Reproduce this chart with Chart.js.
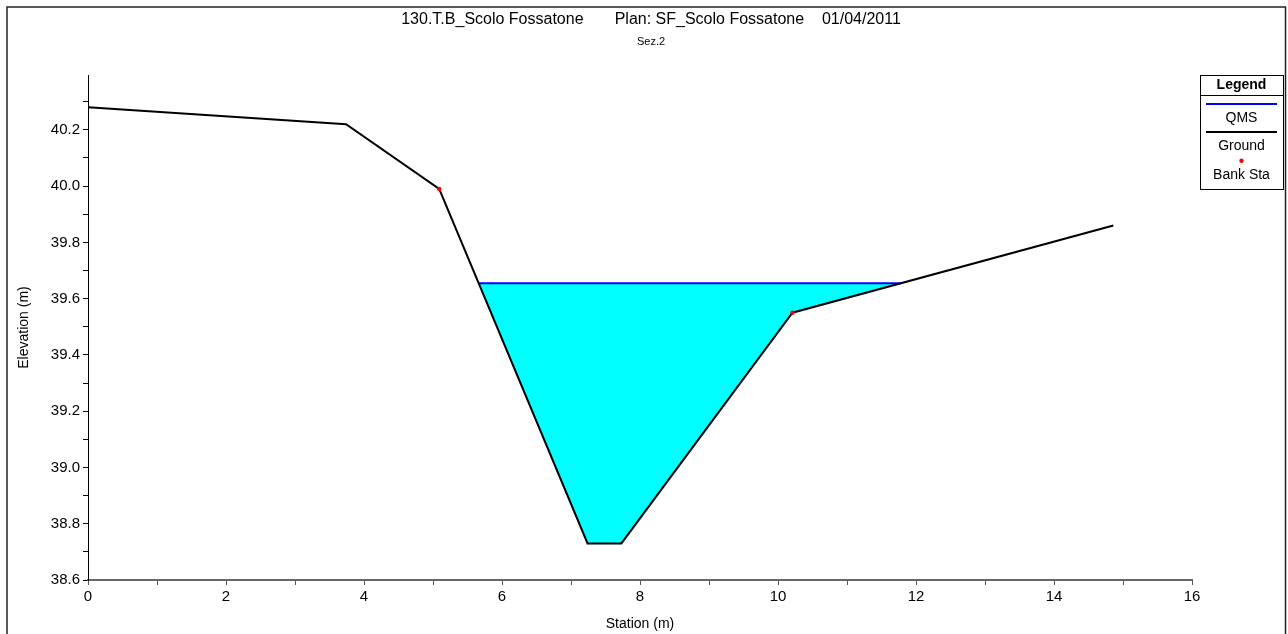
<!DOCTYPE html>
<html lang="it">
<head>
    <meta charset="UTF-8">
    <title>Sez.2 - Scolo Fossatone</title>
    <script src="https://cdn.jsdelivr.net/npm/chart.js"></script>
    <style>
        body {
            margin: 0;
            background-color: #ffffff;
        }
        #sezione {
            display: block;
        }
    </style>
</head>
<body>
    <canvas id="sezione" width="1288" height="634"></canvas>

    <script>
        // Rilievo della sezione: stazioni (m) e quote del terreno (m)
        const stazioni = [0, 3.74, 5.09, 7.24, 7.73, 10.21, 14.86];
        const quoteTerreno = [40.28, 40.22, 39.99, 38.73, 38.73, 39.55, 39.86];
        // Stazioni delle sponde
        const stazioniSponde = [5.09, 10.21];
        // Quota del pelo libero (QMS)
        const quotaQMS = 39.655;

        const rangeX = [0, 16];
        const rangeY = [38.6, 40.395];

        const FONT = '"Liberation Sans", Arial, sans-serif';

        const terreno = stazioni.map((x, i) => ({ x: x, y: quoteTerreno[i] }));
        const sponde = stazioniSponde.map(x => ({ x: x, y: quoteTerreno[stazioni.indexOf(x)] }));

        // parte bagnata del terreno, con i punti di intersezione col pelo libero
        function parteBagnata(punti, quota) {
            const out = [];
            for (let i = 0; i < punti.length; i++) {
                const a = punti[i];
                if (a.y <= quota) out.push(a);
                const b = punti[i + 1];
                if (b && (a.y - quota) * (b.y - quota) < 0) {
                    const t = (quota - a.y) / (b.y - a.y);
                    out.push({ x: a.x + t * (b.x - a.x), y: quota });
                }
            }
            return out;
        }

        const bagnato = parteBagnata(terreno, quotaQMS);
        const qms = [
            { x: bagnato[0].x, y: quotaQMS },
            { x: bagnato[bagnato.length - 1].x, y: quotaQMS }
        ];

        // cornice esterna
        const cornice = {
            id: 'cornice',
            beforeDraw(chart) {
                const ctx = chart.ctx;
                ctx.save();
                ctx.fillStyle = '#ffffff';
                ctx.fillRect(0, 0, chart.width, chart.height);
                ctx.strokeStyle = '#222222';
                ctx.lineWidth = 1.5;
                ctx.strokeRect(7, 7, 1278.5, 700);
                ctx.restore();
            }
        };

        // legenda a riquadro: simbolo sopra, nome sotto
        const legenda = {
            id: 'legenda',
            afterDraw(chart) {
                const ctx = chart.ctx;
                const l = 1200, t = 75, r = 1283, b = 189;
                const cx = (l + r) / 2;
                ctx.save();
                ctx.fillStyle = '#ffffff';
                ctx.fillRect(l, t, r - l, b - t);
                ctx.strokeStyle = '#000000';
                ctx.lineWidth = 1;
                ctx.strokeRect(l + 0.5, t + 0.5, r - l, b - t);

                ctx.textAlign = 'center';
                ctx.textBaseline = 'middle';
                ctx.fillStyle = '#000000';
                ctx.font = 'bold 14px ' + FONT;
                ctx.fillText('Legend', cx, 85.5);
                ctx.beginPath();
                ctx.moveTo(l, 95.5);
                ctx.lineTo(r, 95.5);
                ctx.stroke();

                const voci = [
                    { nome: 'QMS', ySimbolo: 104, yTesto: 118.5 },
                    { nome: 'Ground', ySimbolo: 132, yTesto: 146 },
                    { nome: 'Bank Sta', ySimbolo: 160.7, yTesto: 175 }
                ];
                voci.forEach(v => {
                    const ds = chart.data.datasets.find(d => d.label === v.nome);
                    if (ds.showLine === false) {
                        ctx.fillStyle = ds.pointBackgroundColor;
                        ctx.beginPath();
                        ctx.arc(cx, v.ySimbolo, 2.2, 0, Math.PI * 2);
                        ctx.fill();
                    } else {
                        ctx.strokeStyle = ds.borderColor;
                        ctx.lineWidth = 2;
                        ctx.beginPath();
                        ctx.moveTo(l + 6, v.ySimbolo);
                        ctx.lineTo(r - 6, v.ySimbolo);
                        ctx.stroke();
                    }
                    ctx.fillStyle = '#000000';
                    ctx.font = '14px ' + FONT;
                    ctx.fillText(v.nome, cx, v.yTesto);
                });
                ctx.restore();
            }
        };

        const decimiY = v => Math.round(v * 10);

        new Chart(document.getElementById('sezione'), {
            type: 'line',
            data: {
                datasets: [{
                    label: 'Bank Sta',
                    data: sponde,
                    showLine: false,
                    pointRadius: 2.2,
                    pointBackgroundColor: '#ff0000',
                    pointBorderColor: '#ff0000',
                    pointBorderWidth: 0
                }, {
                    label: 'Ground',
                    data: terreno,
                    borderColor: '#000000',
                    borderWidth: 2,
                    pointRadius: 0,
                    fill: false
                }, {
                    label: 'QMS',
                    data: qms,
                    borderColor: '#0000ff',
                    borderWidth: 2,
                    pointRadius: 0,
                    fill: false
                }, {
                    label: 'acqua',
                    data: bagnato,
                    borderWidth: 0,
                    borderColor: 'rgba(0,0,0,0)',
                    backgroundColor: '#00ffff',
                    pointRadius: 0,
                    fill: { value: quotaQMS }
                }]
            },
            options: {
                responsive: false,
                animation: false,
                layout: {
                    padding: { left: 14, right: 0, top: 0, bottom: 0 }
                },
                plugins: {
                    legend: { display: false },
                    tooltip: { enabled: false },
                    title: {
                        display: true,
                        text: '130.T.B_Scolo Fossatone       Plan: SF_Scolo Fossatone    01/04/2011',
                        color: '#000000',
                        font: { family: FONT, size: 16, weight: 'normal' },
                        padding: { top: 10, bottom: 0 }
                    },
                    subtitle: {
                        display: true,
                        text: 'Sez.2',
                        color: '#000000',
                        font: { family: FONT, size: 11 },
                        padding: { top: 6, bottom: 26.6 }
                    }
                },
                scales: {
                    x: {
                        type: 'linear',
                        min: rangeX[0],
                        max: rangeX[1],
                        afterFit(scale) {
                            scale.height = 54;
                            scale.paddingRight = 96;
                        },
                        ticks: {
                            stepSize: 1,
                            autoSkip: false,
                            maxRotation: 0,
                            padding: 3,
                            color: '#000000',
                            font: { family: FONT, size: 15 },
                            callback: v => (Math.round(v) % 2 === 0 ? String(Math.round(v)) : '')
                        },
                        grid: {
                            drawOnChartArea: false,
                            drawTicks: true,
                            tickLength: 5,
                            color: '#555555',
                            tickColor: '#555555'
                        },
                        border: { color: '#666666', width: 2 },
                        title: {
                            display: true,
                            text: 'Station (m)',
                            color: '#000000',
                            font: { family: FONT, size: 14 },
                            padding: { top: 0, bottom: 1 }
                        }
                    },
                    y: {
                        type: 'linear',
                        min: rangeY[0],
                        max: rangeY[1],
                        afterFit(scale) {
                            scale.width = 74;
                        },
                        afterBuildTicks(scale) {
                            scale.ticks = scale.ticks.filter(t => Math.abs(t.value * 10 - decimiY(t.value)) < 1e-6);
                        },
                        ticks: {
                            stepSize: 0.1,
                            autoSkip: false,
                            padding: 3,
                            color: '#000000',
                            font: { family: FONT, size: 15 },
                            callback: v => (decimiY(v) % 2 === 0 ? (decimiY(v) / 10).toFixed(1) : '')
                        },
                        grid: {
                            drawOnChartArea: false,
                            drawTicks: true,
                            tickLength: 5,
                            color: '#000000',
                            tickColor: '#000000'
                        },
                        border: { color: '#000000', width: 1 },
                        title: {
                            display: true,
                            text: 'Elevation (m)',
                            color: '#000000',
                            font: { family: FONT, size: 14 },
                            padding: { top: 2, bottom: 0 }
                        }
                    }
                }
            },
            plugins: [cornice, legenda]
        });
    </script>
</body>
</html>
